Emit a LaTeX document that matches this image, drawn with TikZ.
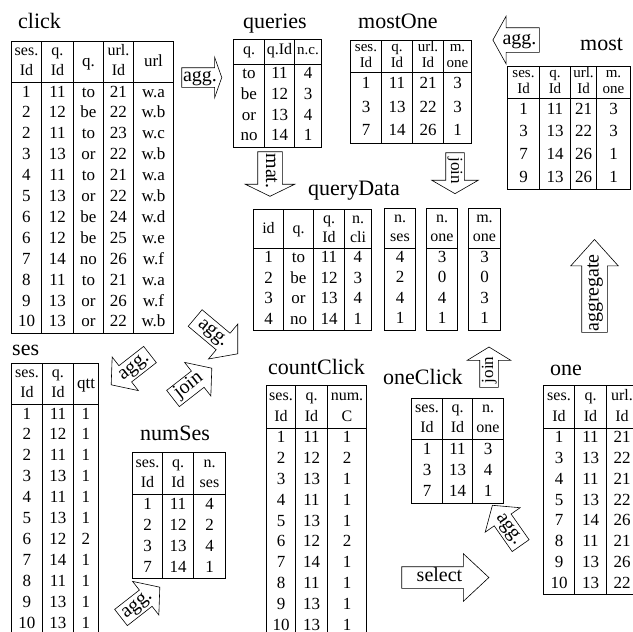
\documentclass[tikz,border=0pt]{standalone}
\usepackage{fontspec}
\setmainfont{Liberation Serif}
\usepackage{array}
\usetikzlibrary{shapes.arrows}

\newcolumntype{C}[1]{>{\centering\arraybackslash}p{#1}}
\newcommand{\hd}[3][20.5]{{\fontsize{16}{#1}\selectfont\begin{tabular}{@{}c@{}}#2\\#3\end{tabular}}}
\newcommand{\hdm}[2]{{\fontsize{15}{15.5}\selectfont\begin{tabular}{@{}c@{}}#1\\#2\end{tabular}}}
\setlength{\tabcolsep}{0pt}
\setlength{\arrayrulewidth}{0.6pt}

\begin{document}
\begin{tikzpicture}[
    x=1pt, y=-1pt,
    tbl/.style={anchor=north west, inner sep=0pt, font=\fontsize{17}{20.8}\selectfont},
    tbltitle/.style={anchor=base west, inner sep=0pt, font=\fontsize{22}{24}\selectfont},
    barrow/.style={single arrow, draw, fill=white, line width=0.6pt, inner sep=0pt, align=center, font=\fontsize{20}{22}\selectfont},
]
\useasboundingbox (0,0) rectangle (633,632);

% Titles
\node[tbltitle] (clickT) at (18,28) {click};
\node[tbltitle] (queriesT) at (243,28) {queries};
\node[tbltitle] (mostOneT) at (358,28) {mostOne};
\node[tbltitle] (mostT) at (580,50) {most};
\node[tbltitle] (queryDataT) at (308,195) {queryData};
\node[tbltitle] (sesT) at (12,355) {ses};
\node[tbltitle] (numSesT) at (140,440) {numSes};
\node[tbltitle] (countClickT) at (268,374) {countClick};
\node[tbltitle] (oneClickT) at (383,384) {oneClick};
\node[tbltitle] (oneT) at (550,375) {one};

% click
\node[tbl, font=\fontsize{17}{20.9}\selectfont] (click) at (11,41) {\begin{tabular}{|C{29.4pt}|C{31.4pt}|C{29.4pt}|C{29.4pt}|C{39.4pt}|}\hline
\hd[20]{ses.}{Id} & \hd[20]{q.}{Id} & q. & \hd[20]{url.}{Id} & url\\\hline
1 & 11 & to & 21 & w.a\\
2 & 12 & be & 22 & w.b\\
2 & 11 & to & 23 & w.c\\
3 & 13 & or & 22 & w.b\\
4 & 11 & to & 21 & w.a\\
5 & 13 & or & 22 & w.b\\
6 & 12 & be & 24 & w.d\\
6 & 12 & be & 25 & w.e\\
7 & 14 & no & 26 & w.f\\
8 & 11 & to & 21 & w.a\\
9 & 13 & or & 26 & w.f\\
10 & 13 & or & 22 & w.b\\\hline
\end{tabular}};

% queries
\node[tbl, font=\fontsize{17}{20.75}\selectfont] (queries) at (233,39) {\begin{tabular}{|C{30.4pt}|C{29.4pt}|C{26.4pt}|}\hline
{\fontsize{16}{18}\selectfont q.} & {\fontsize{16}{18}\selectfont q.Id} & {\fontsize{15}{18}\selectfont n.c.}\\[3pt]\hline
to & 11 & 4\\
be & 12 & 3\\
or & 13 & 4\\
no & 14 & 1\\\hline
\end{tabular}};

% mostOne
\node[tbl, font=\fontsize{17}{23.5}\selectfont] (mostOne) at (350,40) {\begin{tabular}{|C{30.4pt}|C{30.4pt}|C{30.4pt}|C{27.4pt}|}\hline
\hdm{ses.}{Id} & \hdm{q.}{Id} & \hdm{url.}{Id} & \hdm{m.}{one}\\\hline
1 & 11 & 21 & 3\\
3 & 13 & 22 & 3\\
7 & 14 & 26 & 1\\\hline
\end{tabular}};

% most
\node[tbl, font=\fontsize{17}{22.7}\selectfont] (most) at (507,66) {\begin{tabular}{|C{31.4pt}|C{30.4pt}|C{25.4pt}|C{33.4pt}|}\hline
\hdm{ses.}{Id} & \hdm{q.}{Id} & \hdm{url.}{Id} & \hdm{m.}{one}\\\hline
1 & 11 & 21 & 3\\
3 & 13 & 22 & 3\\
7 & 14 & 26 & 1\\
9 & 13 & 26 & 1\\\hline
\end{tabular}};

% queryData
\node[tbl, font=\fontsize{17}{20.5}\selectfont] (queryData) at (253,209) {\begin{tabular}{|C{29.4pt}|C{29.4pt}|C{30.4pt}|C{26.4pt}|}\hline
{\fontsize{16}{18}\selectfont id} & {\fontsize{16}{18}\selectfont q.} & \hd[19]{q.}{Id} & \hd[19]{n.}{cli}\\\hline
1 & to & 11 & 4\\
2 & be & 12 & 3\\
3 & or & 13 & 4\\
4 & no & 14 & 1\\\hline
\end{tabular}};
\node[tbl, font=\fontsize{17}{20.3}\selectfont] (nSes) at (384,208) {\begin{tabular}{|C{30.4pt}|}\hline
\hd[19.5]{n.}{ses}\\\hline
4\\ 2\\ 4\\ 1\\\hline
\end{tabular}};
\node[tbl, font=\fontsize{17}{20.3}\selectfont] (nOne) at (426,208) {\begin{tabular}{|C{30.4pt}|}\hline
\hd[19.5]{n.}{one}\\\hline
3\\ 0\\ 4\\ 1\\\hline
\end{tabular}};
\node[tbl, font=\fontsize{17}{20.3}\selectfont] (mOne) at (468,208) {\begin{tabular}{|C{31.4pt}|}\hline
\hd[19.5]{m.}{one}\\\hline
3\\ 0\\ 3\\ 1\\\hline
\end{tabular}};

% ses
\node[tbl, font=\fontsize{17}{20.9}\selectfont] (ses) at (11,363) {\begin{tabular}{|C{30.4pt}|C{30.4pt}|C{24.4pt}|}\hline
\hd[20]{ses.}{Id} & \hd[20]{q.}{Id} & qtt\\\hline
1 & 11 & 1\\
2 & 12 & 1\\
2 & 11 & 1\\
3 & 13 & 1\\
4 & 11 & 1\\
5 & 13 & 1\\
6 & 12 & 2\\
7 & 14 & 1\\
8 & 11 & 1\\
9 & 13 & 1\\
10 & 13 & 1\\
\end{tabular}};

% numSes
\node[tbl, font=\fontsize{17}{21}\selectfont] (numSes) at (132,452) {\begin{tabular}{|C{29.4pt}|C{30.4pt}|C{31.4pt}|}\hline
\hd{ses.}{Id} & \hd{q.}{Id} & \hd{n.}{ses}\\\hline
1 & 11 & 4\\
2 & 12 & 2\\
3 & 13 & 4\\
7 & 14 & 1\\\hline
\end{tabular}};

% countClick
\node[tbl, font=\fontsize{17}{20.8}\selectfont] (countClick) at (266,385) {\begin{tabular}{|C{28.4pt}|C{31.4pt}|C{38.4pt}|}\hline
\hd[21]{ses.}{Id} & \hd[21]{q.}{Id} & \hd[21]{num.}{C}\\\hline
1 & 11 & 1\\
2 & 12 & 2\\
3 & 13 & 1\\
4 & 11 & 1\\
5 & 13 & 1\\
6 & 12 & 2\\
7 & 14 & 1\\
8 & 11 & 1\\
9 & 13 & 1\\
10 & 13 & 1\\
\end{tabular}};

% oneClick
\node[tbl, font=\fontsize{17}{21.3}\selectfont] (oneClick) at (411,398) {\begin{tabular}{|C{30.4pt}|C{29.4pt}|C{30.4pt}|}\hline
\hd[20]{ses.}{Id} & \hd[20]{q.}{Id} & \hd[20]{n.}{one}\\\hline
1 & 11 & 3\\
3 & 13 & 4\\
7 & 14 & 1\\\hline
\end{tabular}};

% one
\node[tbl, font=\fontsize{17}{20.75}\selectfont] (one) at (543,385) {\begin{tabular}{|C{30.4pt}|C{31.4pt}|C{30.4pt}|}\hline
\hd[21]{ses.}{Id} & \hd[21]{q.}{Id} & \hd[21]{url.}{Id}\\\hline
1 & 11 & 21\\
3 & 13 & 22\\
4 & 11 & 21\\
5 & 13 & 22\\
7 & 14 & 26\\
8 & 11 & 21\\
9 & 13 & 26\\
10 & 13 & 22\\\hline
\end{tabular}};

% Block arrows
\node[barrow, text width=36pt, text height=13.5pt, text depth=5.5pt, single arrow head extend=10.5pt, single arrow tip angle=141] (aggQ) at (200,77.5) {agg.};
\node[barrow, shape border rotate=180, text width=39pt, text height=16pt, text depth=8pt, single arrow head extend=11.5pt, single arrow tip angle=122] (aggM) at (519.5,40) {agg.};
\node[barrow, rotate=-90, text width=38pt, text height=16pt, text depth=8pt, single arrow head extend=12.5pt, single arrow tip angle=128] (matQ) at (270,171) {mat.};
\node[barrow, rotate=-90, font=\fontsize{17}{19}\selectfont, text width=35pt, text height=13pt, text depth=5pt, single arrow head extend=14pt, single arrow tip angle=120] (joinM) at (455,170.5) {join};
\node[barrow, rotate=90, text width=78pt, text height=16.5pt, text depth=8.5pt, single arrow head extend=11pt, single arrow tip angle=84] (aggr) at (594.5,293) {aggregate};
\node[barrow, rotate=90, font=\fontsize{17}{19}\selectfont, text width=34pt, text height=13pt, text depth=5pt, single arrow head extend=12.5pt, single arrow tip angle=117] (joinO) at (489,370) {join};
\node[barrow, text width=75pt, text height=14.5pt, text depth=6.5pt, single arrow head extend=13pt, single arrow tip angle=86] (select) at (439.5,577.5) {select};
\node[barrow, rotate=-40, text width=46pt, text height=14.5pt, text depth=6.5pt, single arrow head extend=12pt, single arrow tip angle=100] (aggC) at (213,333) {agg.};
\node[barrow, rotate=38, text width=40pt, text height=14pt, text depth=6pt, single arrow head extend=11pt, single arrow tip angle=100] (joinN) at (189,386) {join};
\node[barrow, rotate=38, shape border rotate=180, text width=40pt, text height=14pt, text depth=6pt, single arrow head extend=11pt, single arrow tip angle=100] (aggS) at (134,367) {agg.};
\node[barrow, rotate=38, text width=40pt, text height=14pt, text depth=6pt, single arrow head extend=11pt, single arrow tip angle=100] (aggN) at (137,605) {agg.};
\node[barrow, rotate=-55, shape border rotate=180, text width=40pt, text height=14pt, text depth=6pt, single arrow head extend=11pt, single arrow tip angle=100] (aggO) at (509,529) {agg.};

\end{tikzpicture}
\end{document}
